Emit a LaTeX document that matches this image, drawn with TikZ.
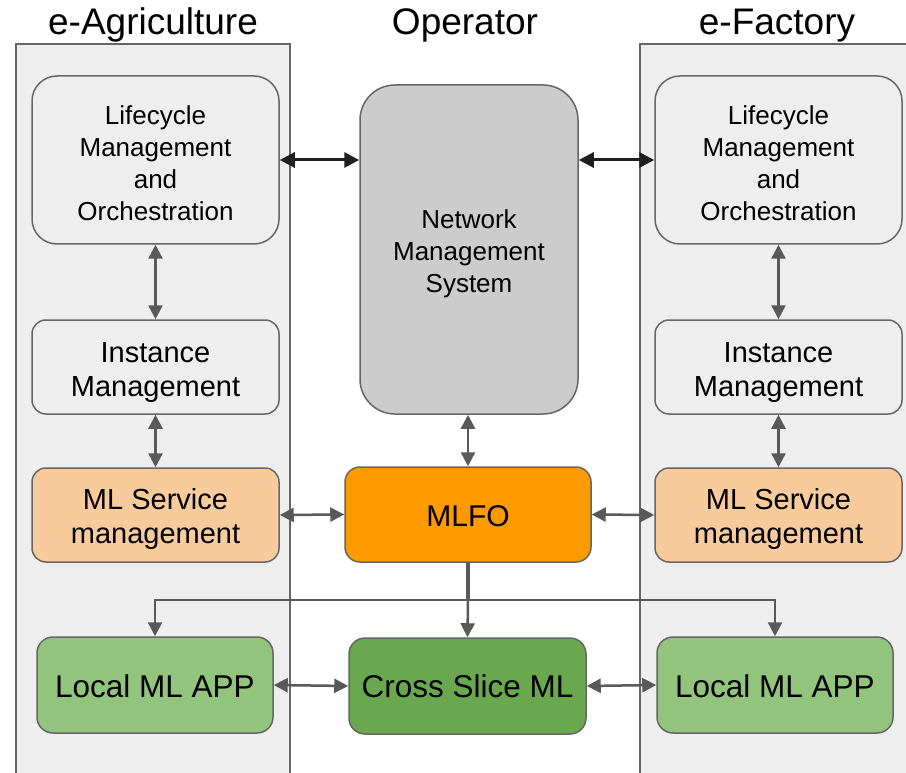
\documentclass[tikz,border=0pt]{standalone}
\usepackage{fontspec}
\setmainfont{Liberation Sans}
\usetikzlibrary{arrows.meta}

\definecolor{panelfill}{HTML}{EEEEEE}
\definecolor{edgegray}{HTML}{666666}
\definecolor{linkgray}{HTML}{595959}
\definecolor{linkblack}{HTML}{1F1F1F}
\definecolor{nmsfill}{HTML}{CCCCCC}
\definecolor{peach}{HTML}{F9CB9C}
\definecolor{mlfofill}{HTML}{FF9900}
\definecolor{lightgreen}{HTML}{93C47D}
\definecolor{darkgreen}{HTML}{6AA84F}

\tikzset{
  panel/.style={draw=edgegray, line width=1.5pt, fill=panelfill},
  boxbase/.style={draw=edgegray, line width=1.5pt, inner sep=0pt},
  boxtext/.style={align=center, inner sep=0pt},
  lcbox/.style={boxbase, fill=panelfill, minimum width=247pt, minimum height=168pt,
    rounded corners=25pt},
  lctext/.style={boxtext, font=\fontsize{26}{32}\selectfont},
  instbox/.style={boxbase, fill=panelfill, minimum width=247pt, minimum height=94pt,
    rounded corners=14pt},
  svcbox/.style={boxbase, fill=peach, minimum width=247pt, minimum height=94pt,
    rounded corners=14pt},
  midtext/.style={boxtext, font=\fontsize{29}{34}\selectfont},
  appbox/.style={boxbase, minimum width=236pt, minimum height=96pt,
    rounded corners=16pt},
  apptext/.style={boxtext, font=\fontsize{31.5}{36}\selectfont},
  title/.style={anchor=base, font=\fontsize{37}{40}\selectfont},
  blacklink/.style={draw=linkblack, line width=3pt,
    {Triangle[length=15pt,width=15pt]}-{Triangle[length=15pt,width=15pt]}},
  graylink/.style={draw=linkgray, line width=2.5pt,
    {Triangle[length=14pt,width=14pt]}-{Triangle[length=14pt,width=14pt]}},
  feed/.style={draw=linkgray, line width=2.5pt, -{Triangle[length=14pt,width=14pt]}},
}

\begin{document}
\begin{tikzpicture}[x=1pt, y=-1pt]
  \useasboundingbox (0,0) rectangle (906,773);
  \fill[white] (0,0) rectangle (906,773);

  % slice panels
  \draw[panel] (16,44) rectangle (290,790);
  \draw[panel] (640,44) rectangle (920,790);

  % column headings
  \node[title] (tagri) at (153,35) {e-Agriculture};
  \node[title] (toper) at (465,35) {Operator};
  \node[title] (tfact) at (777,35) {e-Factory};

  % e-Agriculture slice
  \node[lcbox]   (lc1) at (155.5,160) {};
  \node[lctext]  (lc1t) at (155.5,163) {Lifecycle\\Management\\and\\Orchestration};
  \node[instbox] (in1) at (155.5,367) {};
  \node[midtext] (in1t) at (155.5,373) {Instance\\Management};
  \node[svcbox]  (ms1) at (155.5,515) {};
  \node[midtext] (ms1t) at (155.5,519) {ML Service\\management};
  \node[appbox, fill=lightgreen] (la1) at (155,685) {};
  \node[apptext] (la1t) at (155,686) {Local ML APP};

  % e-Factory slice
  \node[lcbox]   (lc2) at (778.5,160) {};
  \node[lctext]  (lc2t) at (778.5,163) {Lifecycle\\Management\\and\\Orchestration};
  \node[instbox] (in2) at (778.5,367) {};
  \node[midtext] (in2t) at (778.5,373) {Instance\\Management};
  \node[svcbox]  (ms2) at (778.5,515) {};
  \node[midtext] (ms2t) at (778.5,519) {ML Service\\management};
  \node[appbox, fill=lightgreen] (la2) at (775,685) {};
  \node[apptext] (la2t) at (775,686) {Local ML APP};

  % operator
  \node[boxbase, fill=nmsfill, minimum width=218pt, minimum height=329pt,
        rounded corners=35pt] (nms) at (469,249.5) {};
  \node[lctext] (nmst) at (469,253.5) {Network\\Management\\System};
  \node[boxbase, fill=mlfofill, minimum width=246pt, minimum height=95pt,
        rounded corners=15pt] (mlfo) at (468,514.5) {};
  \node[boxtext, font=\fontsize{30}{34}\selectfont] (mlfot) at (468,516.5) {MLFO};
  \node[appbox, fill=darkgreen, minimum width=237pt] (cs) at (467.5,686) {};
  \node[apptext] (cst) at (467.5,686.5) {Cross Slice ML};

  % management plane links
  \draw[blacklink] (lc1.east) -- (lc1.east -| nms.west);
  \draw[blacklink] (lc2.west -| nms.east) -- (lc2.west);
  \draw[graylink] (lc1.south) -- (in1.north);
  \draw[graylink] (in1.south) -- (ms1.north);
  \draw[graylink] (lc2.south) -- (in2.north);
  \draw[graylink] (in2.south) -- (ms2.north);
  \draw[graylink] (nms.south -| mlfo.north) -- (mlfo.north);
  \draw[graylink] (ms1.east) -- (mlfo.west);
  \draw[graylink] (mlfo.east) -- (ms2.west);

  % MLFO distribution to the ML applications
  \coordinate (split) at (468,600);
  \draw[draw=linkgray, line width=4pt] (mlfo.south) -- (split);
  \draw[feed] (split) -- (cs.north);
  \draw[feed] (split) -| (la1.north);
  \draw[feed] (split) -| (la2.north);

  % application links
  \draw[graylink] (la1.east) -- (cs.west);
  \draw[graylink] (cs.east) -- (la2.west);
\end{tikzpicture}
\end{document}
